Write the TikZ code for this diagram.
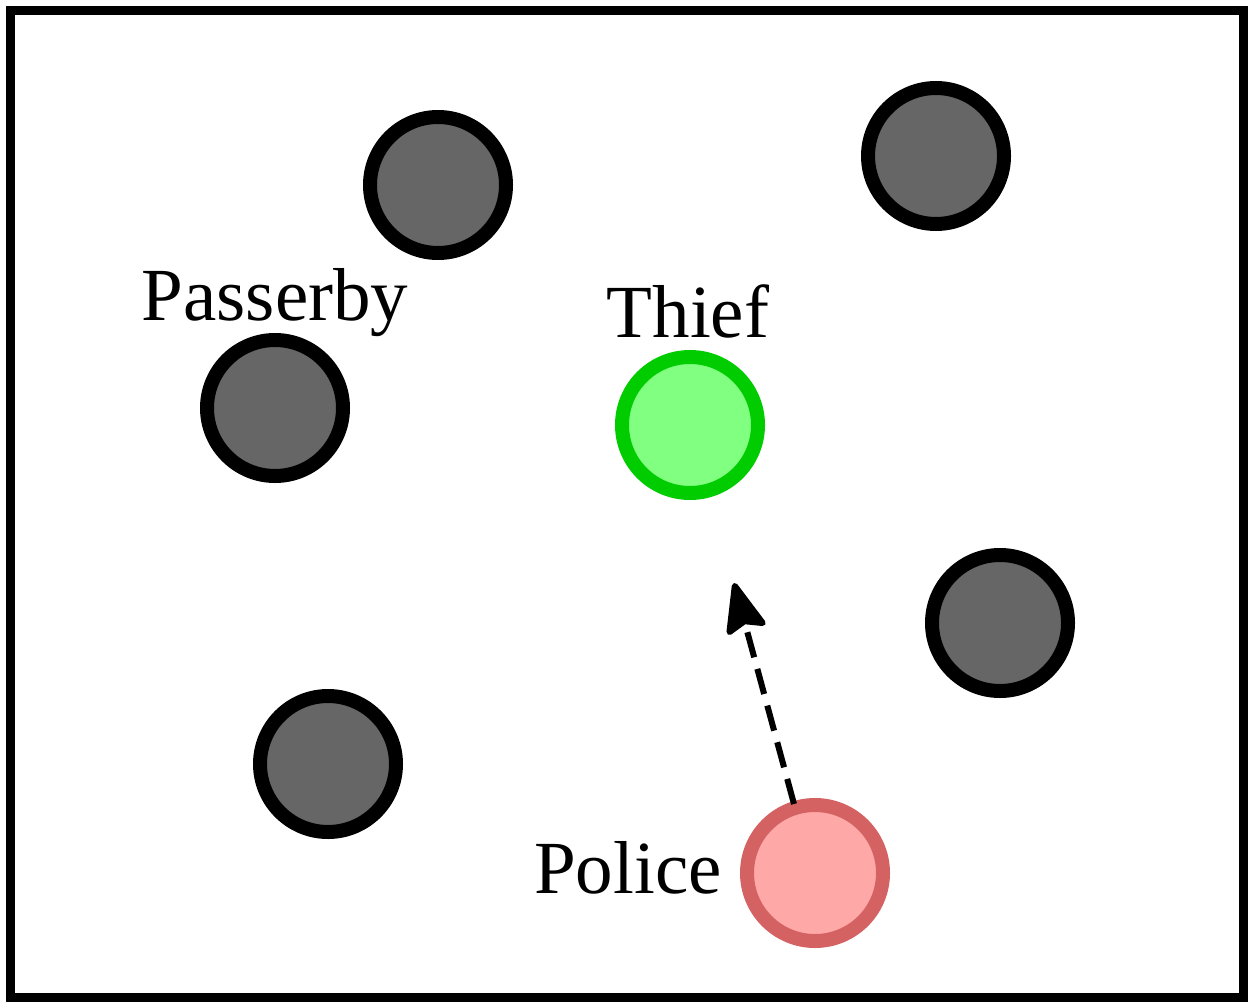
\documentclass[tikz,border=0pt]{standalone}
\usepackage{fontspec}
\setmainfont{Liberation Serif}
\usetikzlibrary{arrows.meta}
\definecolor{pgray}{HTML}{666666}
\definecolor{tgreen}{HTML}{00CC00}
\definecolor{tfill}{HTML}{80FF80}
\definecolor{pred}{HTML}{D46262}
\definecolor{pfill}{HTML}{FFA8A8}
\begin{document}
\begin{tikzpicture}[x=1pt,y=-1pt,
  agent/.style={circle,minimum size=136pt,inner sep=0pt,line width=14pt,draw=black,fill=pgray},
  thiefc/.style={agent,draw=tgreen,fill=tfill},
  policec/.style={agent,draw=pred,fill=pfill},
  lbl/.style={font=\fontsize{75}{80}\selectfont,inner sep=0pt,anchor=base}]
\useasboundingbox (0,0) rectangle (1252,1006);
\draw[line width=9pt] (10.5,10.5) rectangle (1243.5,997.5);
\node[agent] (a1) at (438,185) {};
\node[agent] (a2) at (936,156) {};
\node[agent] (a3) at (275,408) {};
\node[agent] (a4) at (1000,623) {};
\node[agent] (a5) at (328,764) {};
\node[thiefc] (thief) at (690,425) {};
\node[policec] (police) at (815,873) {};
\node[lbl] (lp) at (275,320) {Passerby};
\node[lbl] (lt) at (688,337) {Thief};
\node[lbl] (lpo) at (628,893) {Police};
\coordinate (tip) at (734,583);
\coordinate (st) at (794,804);
\draw[line width=6pt,dash pattern=on 26pt off 12pt,-{Stealth[length=56pt,width=44pt,inset=8pt,round=false]}] (st) -- (tip);
\end{tikzpicture}
\end{document}
